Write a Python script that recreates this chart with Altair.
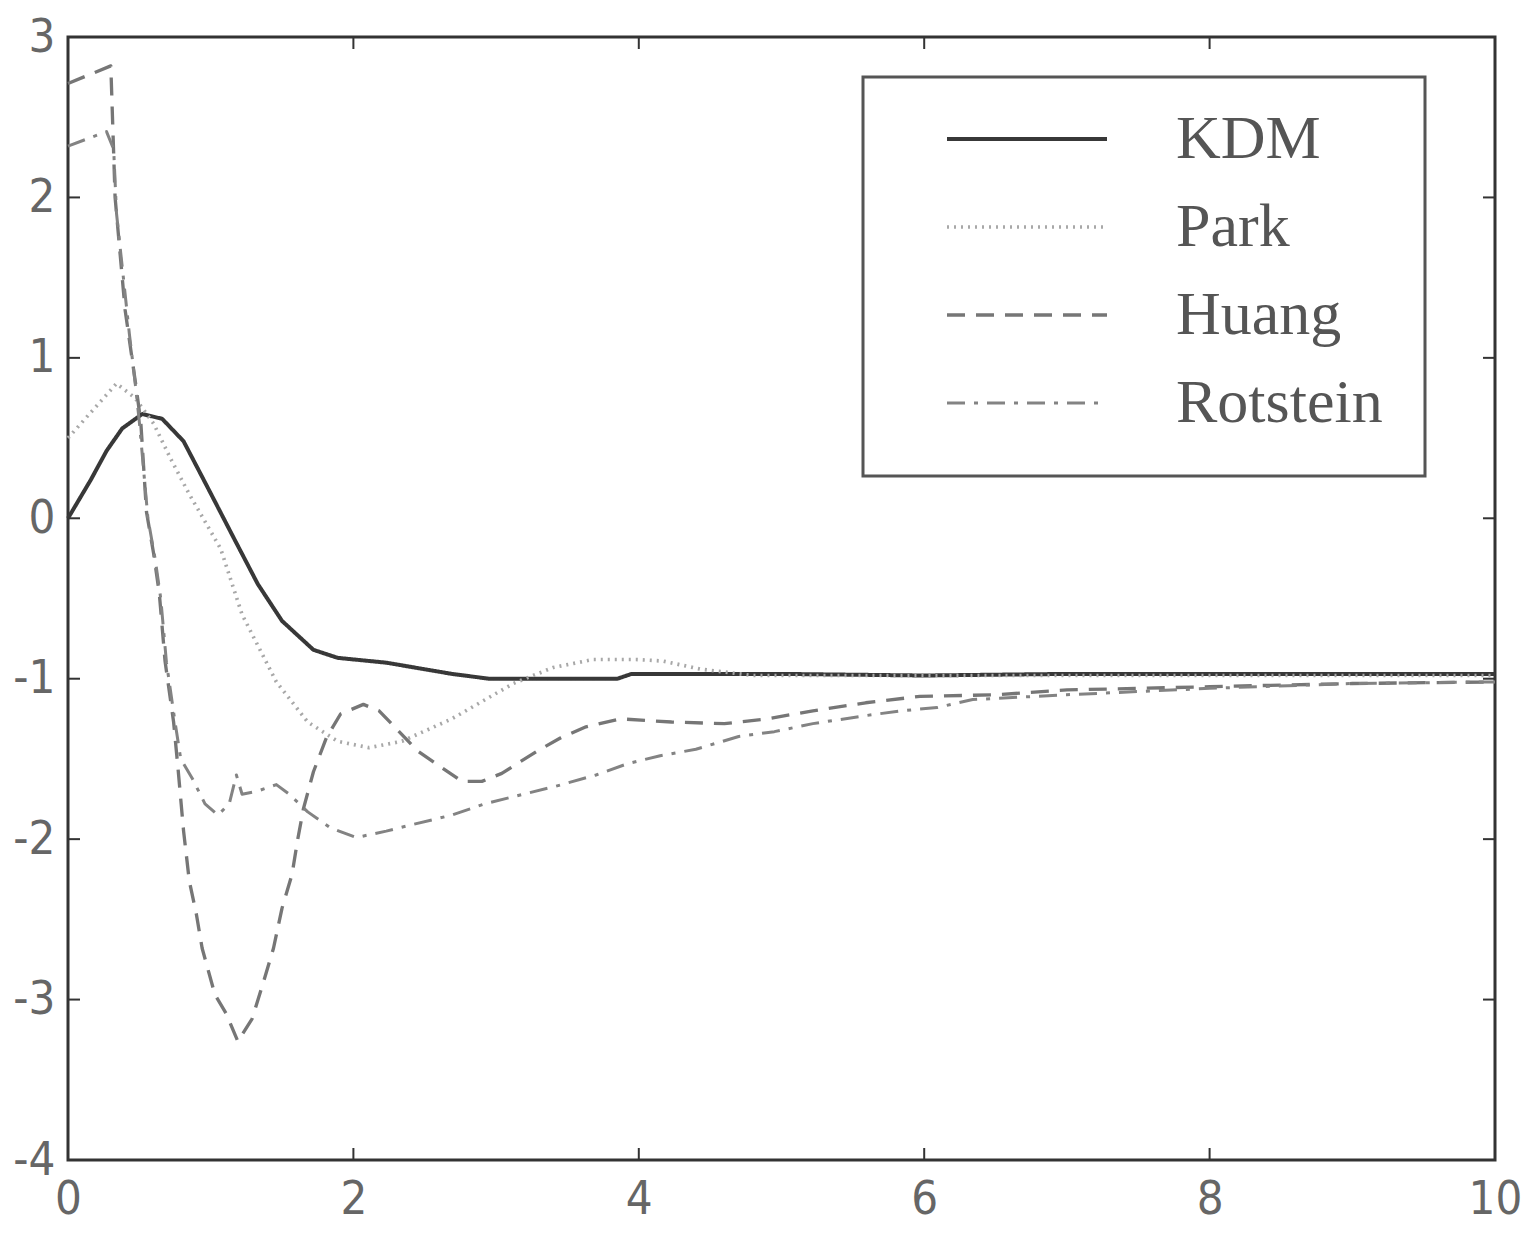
import altair as alt
import pandas as pd

# ---- data ----
x_ticks = [0, 2, 4, 6, 8, 10]
y_ticks = [-4, -3, -2, -1, 0, 1, 2, 3]
series_names = ["KDM", "Park", "Huang", "Rotstein"]

kdm_x = [0, 0.16, 0.27, 0.38, 0.52, 0.66, 0.81, 0.98, 1.16, 1.33, 1.50, 1.72, 1.89, 2.23,
         2.69, 2.95, 3.40, 3.85, 3.95, 4.5, 5.0, 6.0, 7.0, 8.0, 9.0, 10.0]
kdm_y = [0, 0.24, 0.42, 0.56, 0.65, 0.62, 0.48, 0.19, -0.12, -0.41, -0.64, -0.82, -0.87, -0.90,
         -0.97, -1.0, -1.0, -1.0, -0.97, -0.97, -0.97, -0.98, -0.97, -0.97, -0.97, -0.97]

park_x = [0, 0.34, 0.47, 0.60, 0.72, 0.85, 1.07, 1.22, 1.46, 1.68, 1.89, 2.11, 2.34, 2.69,
          3.12, 3.40, 3.68, 3.98, 4.17, 4.43, 4.8, 5.5, 6, 7, 8, 9, 10]
park_y = [0.5, 0.84, 0.75, 0.59, 0.37, 0.15, -0.19, -0.6, -1.02, -1.27, -1.39, -1.43, -1.39, -1.25,
          -1.03, -0.93, -0.88, -0.88, -0.89, -0.94, -0.98, -0.98, -0.98, -0.98, -0.98, -0.98, -0.98]

huang_x = [0, 0.30, 0.33, 0.40, 0.48, 0.51, 0.55, 0.60, 0.64, 0.68,
           0.74, 0.77, 0.81, 0.85, 0.90, 0.94, 1.03, 1.11, 1.19, 1.29,
           1.37, 1.44, 1.50, 1.57, 1.61, 1.65, 1.72, 1.81, 1.91, 2.07,
           2.18, 2.45, 2.76, 2.90, 3.04, 3.29, 3.45, 3.63, 3.87, 4.23,
           4.60, 4.90, 5.22, 5.59, 5.97, 6.5, 7.0, 8.0, 9.0, 10.0]
huang_y = [2.71, 2.82, 2.0, 1.3, 0.8, 0.6, 0.04, -0.22, -0.47, -0.89,
           -1.27, -1.55, -1.95, -2.26, -2.47, -2.68, -2.97, -3.09, -3.26, -3.12,
           -2.89, -2.68, -2.43, -2.22, -2.0, -1.81, -1.58, -1.37, -1.22, -1.16,
           -1.2, -1.45, -1.64, -1.64, -1.59, -1.45, -1.37, -1.30, -1.25, -1.27,
           -1.28, -1.25, -1.2, -1.15, -1.11, -1.1, -1.07, -1.05, -1.03, -1.02]

rot_x = [0, 0.27, 0.32, 0.34, 0.43, 0.47, 0.50, 0.56, 0.61, 0.65,
         0.69, 0.75, 0.79, 0.87, 0.96, 1.05, 1.13, 1.18, 1.22, 1.33,
         1.46, 1.55, 1.68, 1.84, 2.02, 2.23, 2.41, 2.69, 2.92, 3.19,
         3.42, 3.70, 3.92, 4.15, 4.40, 4.70, 4.95, 5.22, 5.59, 5.84,
         6.09, 6.34, 7.0, 8.0, 9.0, 10.0]
rot_y = [2.32, 2.41, 2.3, 1.9, 1.15, 0.85, 0.6, 0.0, -0.25, -0.5,
         -0.9, -1.27, -1.5, -1.62, -1.78, -1.85, -1.78, -1.6, -1.72, -1.70,
         -1.66, -1.72, -1.83, -1.93, -1.99, -1.95, -1.91, -1.85, -1.78, -1.72,
         -1.67, -1.6, -1.53, -1.48, -1.44, -1.36, -1.33, -1.28, -1.23, -1.2,
         -1.18, -1.13, -1.1, -1.06, -1.03, -1.02]

# ---- styles ----
colors = ["#383838", "#a8a8a8", "#767676", "#838383"]
dashes = [[1, 0], [2, 5], [18, 11], [18, 9, 4, 9]]
widths = [4.0, 3.0, 4.0, 3.5]

frames = []
for name, xs, ys in zip(series_names, [kdm_x, park_x, huang_x, rot_x],
                        [kdm_y, park_y, huang_y, rot_y]):
    frames.append(pd.DataFrame({"t": xs, "v": ys, "series": name,
                                "order": list(range(len(xs)))}))
df = pd.concat(frames, ignore_index=True)

W, H = 1427, 1123
AX_FONT = "Liberation Sans Narrow, DejaVu Sans Condensed, sans-serif"
neg_label = "datum.value < 0 ? '-' + abs(datum.value) : '' + datum.value"

xscale = alt.Scale(domain=[0, 10], nice=False, zero=False)
yscale = alt.Scale(domain=[-4, 3], nice=False, zero=False)

x_axis = alt.Axis(values=x_ticks, ticks=False, domain=False, grid=False,
                  labelFont=AX_FONT, labelFontSize=47, labelColor="#666",
                  labelPadding=16, labelFlush=False, labelOverlap=False,
                  labelExpr=neg_label, title=None)
y_axis = alt.Axis(values=y_ticks, ticks=False, domain=False, grid=False,
                  labelFont=AX_FONT, labelFontSize=47, labelColor="#666",
                  labelPadding=13, labelOverlap=False, labelExpr=neg_label,
                  title=None)

leg = alt.Legend(title=None, orient="none", legendX=795, legendY=40,
                 symbolType="stroke", symbolSize=25600, symbolStrokeWidth=3.5,
                 clipHeight=40, labelFont="Liberation Serif", labelFontSize=62,
                 labelColor="#555", labelOffset=67, labelLimit=500, rowPadding=26,
                 padding=42, symbolOffset=40, strokeColor="#555", fillColor="white")

lines = alt.Chart(df).mark_line(strokeCap="butt", strokeJoin="round").encode(
    x=alt.X("t:Q", scale=xscale, axis=x_axis),
    y=alt.Y("v:Q", scale=yscale, axis=y_axis),
    order="order:Q",
    color=alt.Color("series:N", scale=alt.Scale(domain=series_names, range=colors), legend=leg),
    strokeDash=alt.StrokeDash("series:N", scale=alt.Scale(domain=series_names, range=dashes), legend=leg),
    strokeWidth=alt.StrokeWidth("series:N", scale=alt.Scale(domain=series_names, range=widths), legend=None),
)

xt = pd.DataFrame({"t": x_ticks[1:-1]})
yt = pd.DataFrame({"v": y_ticks[1:-1]})
TICK = 12
tick_style = dict(color="#333", strokeWidth=2)

bottom_ticks = alt.Chart(xt).mark_rule(**tick_style).encode(
    x=alt.X("t:Q", scale=xscale, axis=x_axis), y=alt.value(H), y2=alt.value(H - TICK))
top_ticks = alt.Chart(xt).mark_rule(**tick_style).encode(
    x=alt.X("t:Q", scale=xscale, axis=x_axis), y=alt.value(0), y2=alt.value(TICK))
left_ticks = alt.Chart(yt).mark_rule(**tick_style).encode(
    y=alt.Y("v:Q", scale=yscale, axis=y_axis), x=alt.value(0), x2=alt.value(TICK))
right_ticks = alt.Chart(yt).mark_rule(**tick_style).encode(
    y=alt.Y("v:Q", scale=yscale, axis=y_axis), x=alt.value(W), x2=alt.value(W - TICK))

chart = alt.layer(lines, bottom_ticks, top_ticks, left_ticks, right_ticks).properties(
    width=W, height=H,
    autosize=alt.AutoSizeParams(type="none"),
    padding={"left": 60, "top": 29, "right": 30, "bottom": 72},
    background="white",
).configure_view(stroke="#333", strokeWidth=3).configure_legend(strokeWidth=3)

chart.save("out.html", embed_options={"renderer": "svg", "actions": False})
